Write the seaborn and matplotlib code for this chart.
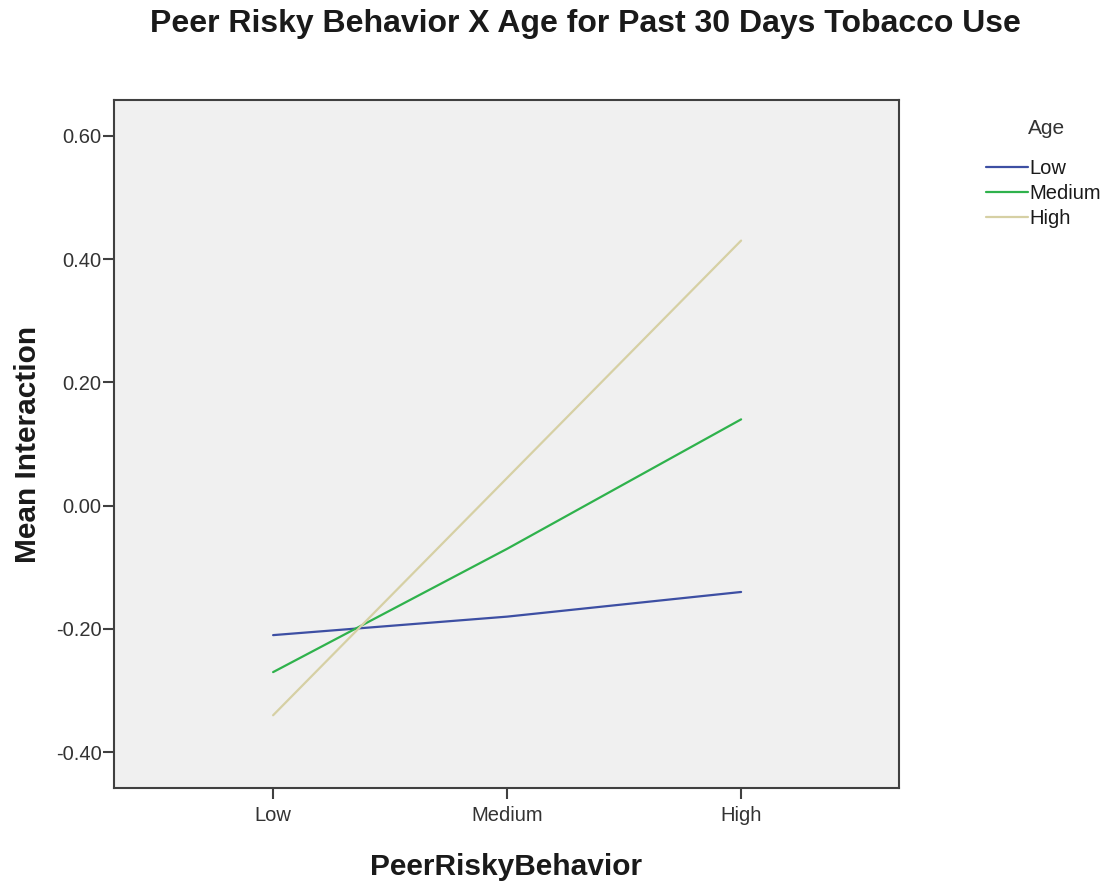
import numpy as np
import pandas as pd
import matplotlib
matplotlib.use("Agg")
import matplotlib.pyplot as plt
import seaborn as sns

# values
peer_levels = ["Low", "Medium", "High"]
age_levels = ["Low", "Medium", "High"]
age_low = [-0.21, -0.18, -0.14]
age_medium = [-0.27, -0.07, 0.14]
age_high = [-0.34, 0.045, 0.43]
y_ticks = [-0.40, -0.20, 0.00, 0.20, 0.40, 0.60]

colors = {"Low": "#3d4fa3", "Medium": "#2fb24c", "High": "#d6d0a4"}


def build_frame():
    rows = []
    for age, vals in zip(age_levels, [age_low, age_medium, age_high]):
        for i, v in enumerate(vals):
            rows.append({"x": i, "PeerRiskyBehavior": peer_levels[i], "Age": age, "Mean Interaction": v})
    return pd.DataFrame(rows)


sns.set_theme(style="white")
plt.rcParams['font.family'] = ['Liberation Sans', 'DejaVu Sans']

df = build_frame()

fig = plt.figure(figsize=(11.12, 8.86), dpi=100)
ax = fig.add_axes([0.1025, 0.1106, 0.706, 0.7765])
ax.set_facecolor('#f0f0f0')

sns.lineplot(data=df, x='x', y='Mean Interaction', hue='Age', hue_order=age_levels,
             palette=colors, linewidth=1.6, ax=ax)

ax.set_xlim(-0.68, 2.675)
ax.set_ylim(-0.458, 0.658)
ax.set_xticks(range(len(peer_levels)))
ax.set_xticklabels(peer_levels)
ax.set_yticks(y_ticks)
ax.set_yticklabels([f"{t:.2f}" for t in y_ticks])

for s in ax.spines.values():
    s.set_color('#404040')
    s.set_linewidth(1.5)
ax.tick_params(axis='both', direction='out', length=8, width=1.5, color='#404040',
               labelsize=14.5, labelcolor='#333333', left=True, bottom=True)
ax.tick_params(axis='y', pad=1)
ax.tick_params(axis='x', pad=5)

ax.set_xlabel("PeerRiskyBehavior", fontsize=21.5, fontweight='bold', color='#1a1a1a', labelpad=20)
ax.set_ylabel("Mean Interaction", fontsize=21.5, fontweight='bold', color='#1a1a1a', labelpad=10)

fig.text(585 / 1112, 1 - 24 / 886, "Peer Risky Behavior X Age for Past 30 Days Tobacco Use",
         ha='center', va='center', fontsize=23, fontweight='bold', color='#1a1a1a')

# legend title drawn separately so the gap matches
fig.text(1047 / 1112, 1 - 128 / 886, "Age", ha='center', va='center',
         fontsize=15, color='#333333')
leg = ax.legend(loc='upper left', bbox_to_anchor=(986 / 1112, 1 - 159 / 886),
                bbox_transform=fig.transFigure, frameon=False, fontsize=14.5,
                handlelength=2.1, handletextpad=0.05,
                labelspacing=0.3, borderaxespad=0, borderpad=0)
for line in leg.get_lines():
    line.set_linewidth(1.6)
for t in leg.get_texts():
    t.set_color('#1a1a1a')

plt.savefig("out.png", dpi=100, facecolor='white')
plt.close()
